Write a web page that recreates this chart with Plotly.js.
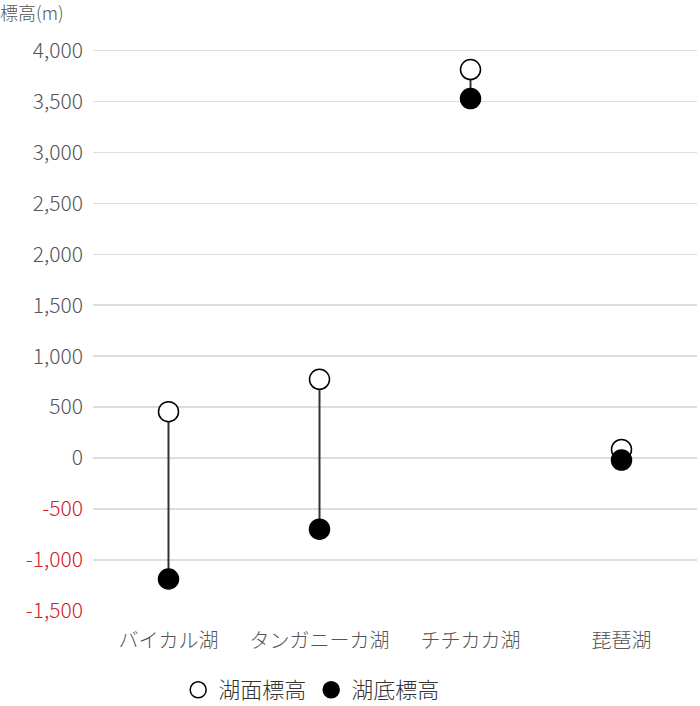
<!DOCTYPE html>
<html>
<head>
<meta charset="utf-8">
<script src="https://cdn.plot.ly/plotly-3.0.1.min.js"></script>
<style>
  html, body { margin: 0; padding: 0; background: #fff; }
  #chart { width: 700px; height: 706px; }
</style>
</head>
<body>
<div id="chart"></div>
<script>
// lakes and their elevations (m)
var lakes = ['バイカル湖', 'タンガニーカ湖', 'チチカカ湖', '琵琶湖'];
var surfaceElev = [456, 773, 3812, 85];
var bottomElev = [-1186, -697, 3527, -19];

var yTicks = [-1500, -1000, -500, 0, 500, 1000, 1500, 2000, 2500, 3000, 3500, 4000];

var font = '"Noto Sans CJK JP", "Noto Sans", sans-serif';

// one line trace, broken with nulls between lakes
var lineX = [], lineY = [];
for (var i = 0; i < lakes.length; i++) {
  lineX.push(lakes[i], lakes[i], null);
  lineY.push(surfaceElev[i], bottomElev[i], null);
}

var tickText = yTicks.map(function (v) {
  var s = v.toLocaleString('en-US');
  return v < 0 ? '<span style="color:#d0202a">' + s + '</span>' : s;
});

var traces = [
  {
    x: lineX, y: lineY, type: 'scatter', mode: 'lines',
    line: {color: '#333', width: 2},
    showlegend: false, hoverinfo: 'skip'
  },
  {
    x: lakes, y: surfaceElev, type: 'scatter', mode: 'markers',
    name: '湖面標高',
    marker: {size: 20, color: '#fff', line: {color: '#000', width: 1.5}}
  },
  {
    x: lakes, y: bottomElev, type: 'scatter', mode: 'markers',
    name: '湖底標高',
    marker: {size: 20, color: '#000', line: {color: '#000', width: 1.5}}
  }
];

var layout = {
  width: 700, height: 706,
  margin: {l: 93, r: 3, t: 30, b: 95},
  paper_bgcolor: '#fff', plot_bgcolor: '#fff',
  font: {family: font, size: 20, color: '#555', weight: 300},
  title: {
    text: '標高(m)', x: 0, xref: 'container', xanchor: 'left',
    y: 1 - 14 / 706, yref: 'container', yanchor: 'middle',
    font: {family: font, size: 18, color: '#555'}
  },
  xaxis: {
    type: 'category', range: [-0.5, 3.5], showgrid: false, zeroline: false,
    showline: false, ticks: '', ticklabelstandoff: 16,
    tickfont: {size: 20, color: '#555'}
  },
  yaxis: {
    range: [-1500, 4200], tickvals: yTicks, ticktext: tickText,
    showgrid: true, gridcolor: '#ddd', gridwidth: 1.5,
    zeroline: false, showline: false, ticks: '', ticklabelstandoff: 9,
    tickfont: {size: 21, color: '#555'}
  },
  showlegend: true,
  legend: {
    orientation: 'h', x: 0.141, xanchor: 'left',
    y: 1 - 690 / 706, yref: 'container', yanchor: 'middle',
    font: {size: 22, color: '#333'}, itemwidth: 30, traceorder: 'normal'
  }
};

Plotly.newPlot('chart', traces, layout, {displayModeBar: false, staticPlot: true});
</script>
</body>
</html>
